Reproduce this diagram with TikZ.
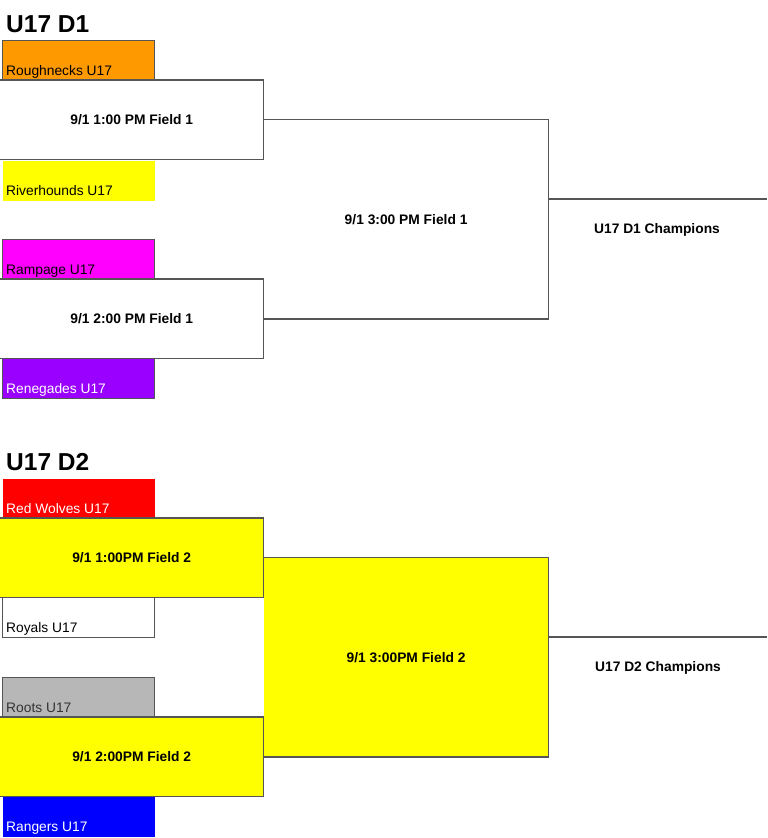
\documentclass[tikz,border=0pt]{standalone}
\usepackage{fontspec}
\setmainfont{Liberation Sans}
\usepackage{xcolor}
\usepackage{tikz}
\usetikzlibrary{positioning}
\definecolor{lineGray}{HTML}{555555}
\definecolor{teamOrange}{HTML}{FF9900}
\definecolor{teamYellow}{HTML}{FFFF00}
\definecolor{teamMagenta}{HTML}{FF00FF}
\definecolor{teamPurple}{HTML}{9900FF}
\definecolor{teamRed}{HTML}{FF0000}
\definecolor{teamGray}{HTML}{B7B7B7}
\definecolor{teamBlue}{HTML}{0000FF}
\tikzset{
  teambox/.style={rectangle, anchor=north west, inner sep=0pt,
    minimum width=152pt, minimum height=40pt, line width=1.3pt},
  teamname/.style={anchor=base west, inner sep=0pt,
    font=\fontsize{13.8}{16}\selectfont},
  gamebox/.style={rectangle, anchor=north west, inner sep=0pt,
    minimum width=263pt, minimum height=79pt,
    font=\fontsize{13.8}{16}\selectfont\bfseries},
  finalbox/.style={rectangle, anchor=north west, inner sep=0pt,
    minimum width=285pt, minimum height=199pt,
    font=\fontsize{13.8}{16}\selectfont\bfseries},
  edge/.style={draw=lineGray, line width=1.3pt},
  champ/.style={font=\fontsize{13.8}{16}\selectfont\bfseries},
  heading/.style={anchor=base west, inner sep=0pt,
    font=\fontsize{24.5}{28}\selectfont\bfseries}
}
\begin{document}
\begin{tikzpicture}[x=1pt,y=-1pt]
  \useasboundingbox (0,0) rectangle (768,838);

  % Division 1
  \node[heading] (t1) at (6,32) {U17 D1};
  \node[teambox, fill=teamYellow] (rh) at (2,160) {};
  \node[teambox, fill=teamOrange, draw=lineGray] (rn) at (2,40) {};
  \node[teambox, fill=teamMagenta, draw=lineGray] (rp) at (2,239) {};
  \node[teambox, fill=teamPurple, draw=lineGray] (rg) at (2,358) {};
  \node[teamname] (rnT) at ([shift={(4,-6)}]rn.south west) {Roughnecks U17};
  \node[teamname] (rhT) at ([shift={(4,-6)}]rh.south west) {Riverhounds U17};
  \node[teamname] (rpT) at ([shift={(4,-6)}]rp.south west) {Rampage U17};
  \node[teamname, text=white] (rgT) at ([shift={(4,-6)}]rg.south west) {Renegades U17};

  \node[gamebox, fill=white] (g1) at (0,80) {9/1 1:00 PM Field 1};
  \node[gamebox, fill=white] (g2) at (0,279) {9/1 2:00 PM Field 1};
  \draw[edge] (g1.north west) -- (g1.north east) -- (g1.south east) -- (g1.south west);
  \draw[edge] (g2.north west) -- (g2.north east) -- (g2.south east) -- (g2.south west);

  \node[finalbox] (f1) at (g1.east) {9/1 3:00 PM Field 1};
  \draw[edge] (f1.north west) -- (f1.north east) -- (f1.south east) -- (f1.south west);
  \coordinate (c1) at (767,199);
  \draw[edge] (f1.east |- c1) -- (c1);
  \node[champ] (ch1) at (657,230) {U17 D1 Champions};

  % Division 2
  \node[heading] (t2) at (6,470) {U17 D2};
  \node[teambox, fill=teamRed] (rw) at (2,478) {};
  \node[teambox, fill=white, draw=lineGray] (ry) at (2,597) {};
  \node[teambox, fill=teamGray, draw=lineGray] (ro) at (2,677) {};
  \node[teambox, fill=teamBlue] (ra) at (2,796) {};
  \node[teamname, text=white] (rwT) at ([shift={(4,-6)}]rw.south west) {Red Wolves U17};
  \node[teamname] (ryT) at ([shift={(4,-6)}]ry.south west) {Royals U17};
  \node[teamname, text=black!80] (roT) at ([shift={(4,-6)}]ro.south west) {Roots U17};
  \node[teamname, text=white] (raT) at ([shift={(4,-6)}]ra.south west) {Rangers U17};

  \node[gamebox, fill=teamYellow] (g3) at (0,518) {9/1 1:00PM Field 2};
  \node[gamebox, fill=teamYellow] (g4) at (0,717) {9/1 2:00PM Field 2};
  \draw[edge] (g3.north west) -- (g3.north east) -- (g3.south east) -- (g3.south west);
  \draw[edge] (g4.north west) -- (g4.north east) -- (g4.south east) -- (g4.south west);

  \node[finalbox, fill=teamYellow] (f2) at (g3.east) {9/1 3:00PM Field 2};
  \draw[edge] (f2.north west) -- (f2.north east) -- (f2.south east) -- (f2.south west);
  \coordinate (c2) at (767,637);
  \draw[edge] (f2.east |- c2) -- (c2);
  \node[champ] (ch2) at (658,668) {U17 D2 Champions};
\end{tikzpicture}
\end{document}
